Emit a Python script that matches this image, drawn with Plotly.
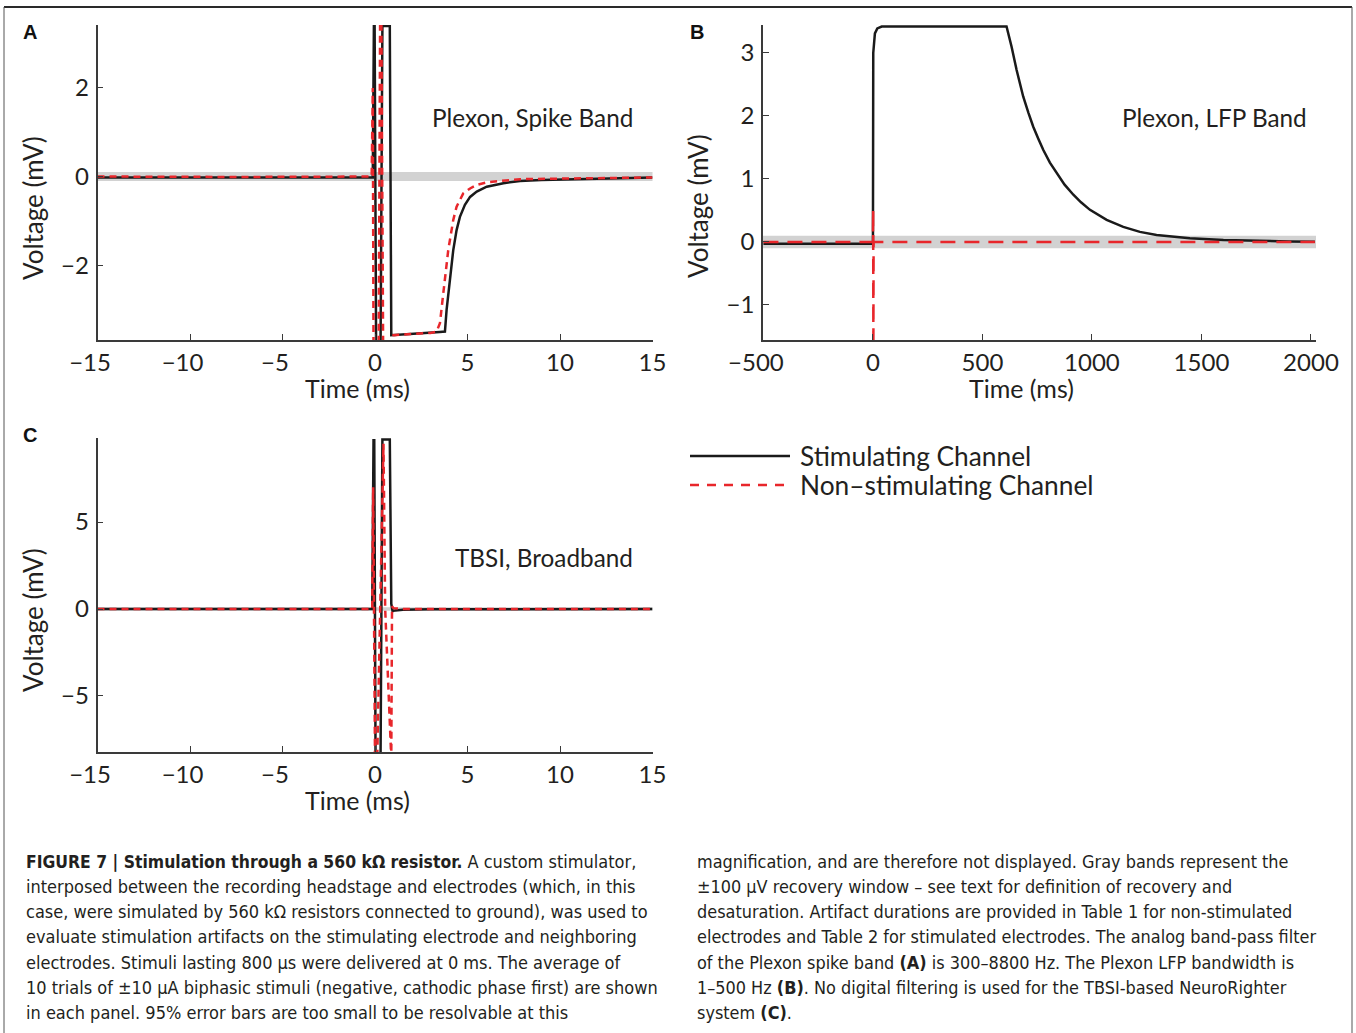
import plotly.graph_objects as go

W, H = 1356, 1033

# ---------------- data (time in ms, voltage in mV) ----------------
A_STIM_T = [-15, -10, -5, -0.12, -0.06, -0.02, 0.06, 0.3, 0.4, 0.8, 0.88, 1.5, 2.5, 3.5, 3.78,
            3.87, 4.05, 4.23, 4.41, 4.59, 4.86, 5.14, 5.5, 6.04, 6.94, 7.84, 9.0, 10.54, 13.24, 15]
A_STIM_V = [-0.02, -0.02, -0.02, -0.02, 3.40, 3.40, -3.9, -3.9, 3.40, 3.40, -3.58, -3.57, -3.54, -3.51, -3.50,
            -3.01, -2.26, -1.66, -1.21, -0.91, -0.64, -0.46, -0.34, -0.23, -0.15, -0.10, -0.08, -0.06, -0.04, -0.02]
A_NON_T = [-15, -7.5, -0.18, -0.12, -0.08, 0.2, 0.28, 0.34, 0.44, 0.95, 1.0, 2.0, 3.0, 3.33,
           3.51, 3.69, 3.96, 4.23, 4.41, 4.77, 5.14, 5.5, 6.04, 7.84, 10.5, 15]
A_NON_V = [0.0, -0.01, 0.0, 2.0, -3.9, -3.9, 3.9, 3.9, -3.9, -3.9, -3.58, -3.56, -3.53, -3.50,
           -3.31, -2.64, -1.66, -0.98, -0.68, -0.38, -0.27, -0.19, -0.13, -0.06, -0.04, -0.02]

B_STIM_T = [-500, -250, 0, 1.4, 5, 9, 20, 40, 610, 633, 656, 686, 710, 732, 755, 778, 808, 839, 875, 915,
            950, 991, 1067, 1143, 1219, 1295, 1371, 1447, 1600, 1752, 1900, 2018]
B_STIM_V = [-0.03, -0.03, -0.03, 3.0, 3.2, 3.31, 3.39, 3.42, 3.42, 3.10, 2.73, 2.31, 2.05, 1.83, 1.64, 1.46,
            1.26, 1.09, 0.91, 0.75, 0.63, 0.51, 0.35, 0.24, 0.16, 0.11, 0.08, 0.06, 0.03, 0.016, 0.009, 0.005]
B_NON_T = [-500, -250, 0, 1, 2, 3, 1000, 2018]
B_NON_V = [0.0, 0.0, 0.0, 0.52, -1.7, 0.0, 0.0, 0.0]

C_STIM_T = [-15, -7.5, -0.15, -0.08, -0.04, 0.03, 0.3, 0.4, 0.45, 0.8, 0.88, 0.95, 1.1, 1.5, 3, 15]
C_STIM_V = [0.0, 0.0, 0.0, 9.7, 9.7, -8.6, -8.6, 9.75, 9.75, 9.75, 0.3, -0.12, -0.08, -0.04, -0.02, 0.0]
C_NON_T = [-15, -7.5, -0.15, -0.1, 0.0, 0.12, 0.42, 0.46, 0.55, 0.88, 0.92, 1.0, 1.5, 15]
C_NON_V = [0.0, 0.0, 0.0, 7.0, -8.6, -8.6, 9.5, 9.5, 0.0, -8.6, 0.15, 0.05, 0.0, 0.0]

RECOVERY_WINDOW_MV = 0.1

A_XTICKS = [-15, -10, -5, 0, 5, 10, 15]
A_XTICKTEXT = ["\u221215", "\u221210", "\u22125", "0", "5", "10", "15"]
A_YTICKS = [-2, 0, 2]
B_XTICKS = [-500, 0, 500, 1000, 1500, 2000]
B_XTICKTEXT = ["\u2212500", "0", "500", "1000", "1500", "2000"]
B_YTICKS = [-1, 0, 1, 2, 3]
C_XTICKS = [-15, -10, -5, 0, 5, 10, 15]
C_XTICKTEXT = ["\u221215", "\u221210", "\u22125", "0", "5", "10", "15"]
C_YTICKS = [-5, 0, 5]

PANEL_TITLES = ["Plexon, Spike Band", "Plexon, LFP Band", "TBSI, Broadband"]
PANEL_LETTERS = ["A", "B", "C"]
SERIES_NAMES = ["Stimulating Channel", "Non\u2013stimulating Channel"]
X_TITLE = "Time (ms)"
Y_TITLE = "Voltage (mV)"

CAPTION_HEAD = "FIGURE 7 | Stimulation through a 560 k\u03a9 resistor."
CAPTION_LEFT = [
    " A custom stimulator,",
    "interposed between the recording headstage and electrodes (which, in this",
    "case, were simulated by 560 k\u03a9 resistors connected to ground), was used to",
    "evaluate stimulation artifacts on the stimulating electrode and neighboring",
    "electrodes. Stimuli lasting 800 \u00b5s were delivered at 0 ms. The average of",
    "10 trials of \u00b110 \u00b5A biphasic stimuli (negative, cathodic phase first) are shown",
    "in each panel. 95% error bars are too small to be resolvable at this",
]
CAPTION_RIGHT = [
    "magnification, and are therefore not displayed. Gray bands represent the",
    "\u00b1100 \u00b5V recovery window \u2013 see text for definition of recovery and",
    "desaturation. Artifact durations are provided in Table 1 for non-stimulated",
    "electrodes and Table 2 for stimulated electrodes. The analog band-pass filter",
    "of the Plexon spike band <b>(A)</b> is 300\u20138800 Hz. The Plexon LFP bandwidth is",
    "1\u2013500 Hz <b>(B)</b>. No digital filtering is used for the TBSI-based NeuroRighter",
    "system <b>(C)</b>.",
]

# ---------------- styling ----------------
BLACK = "#1a1a1a"
RED = "#e8262b"
BAND = "#d2d2d2"
AXIS = "#3a3a3a"
TXT = "#231f20"
FONT = "Lato, Open Sans, sans-serif"
CAP_FONT = "DejaVu Sans Condensed, Liberation Sans Narrow, Liberation Sans, sans-serif"
NEG_PAD = "\u2002\u2009"   # pushes negative tick labels slightly left, as in the original


def px(x):
    return x / W


def py(y):
    return 1 - y / H


def padded(labels):
    return [t + NEG_PAD if t.startswith("\u2212") else t for t in labels]


fig = go.Figure()

panels = [
    ("x", "y", A_STIM_T, A_STIM_V, A_NON_T, A_NON_V, "7px,5px"),
    ("x2", "y2", B_STIM_T, B_STIM_V, B_NON_T, B_NON_V, "15px,9px"),
    ("x3", "y3", C_STIM_T, C_STIM_V, C_NON_T, C_NON_V, "7px,5px"),
]
for xa, ya, st, sv, nt, nv, dash in panels:
    fig.add_trace(go.Scatter(x=st, y=sv, mode="lines", name=SERIES_NAMES[0],
                             line=dict(color=BLACK, width=2.5), xaxis=xa, yaxis=ya,
                             showlegend=False))
    fig.add_trace(go.Scatter(x=nt, y=nv, mode="lines", name=SERIES_NAMES[1],
                             line=dict(color=RED, width=2.5, dash=dash), xaxis=xa, yaxis=ya,
                             showlegend=False))
    xref = xa + " domain"
    fig.add_shape(type="rect", xref=xref, yref=ya, x0=0, x1=1,
                  y0=-RECOVERY_WINDOW_MV, y1=RECOVERY_WINDOW_MV,
                  fillcolor=BAND, line=dict(width=0), layer="below")


def xaxis_cfg(dom, rng, ticks, ticktext):
    return dict(domain=dom, range=rng, tickvals=ticks, ticktext=padded(ticktext), showline=True,
                linecolor=AXIS, linewidth=1.5,
                ticks="inside", ticklen=6, tickcolor=AXIS, tickwidth=1.2, showgrid=False, zeroline=False,
                tickfont=dict(family=FONT, size=24, color=TXT), ticklabelstandoff=0, automargin=False,
                fixedrange=True)


def yaxis_cfg(dom, rng, ticks, anchor):
    return dict(domain=dom, range=rng, tickvals=ticks, showline=True, linecolor=AXIS, linewidth=1.5,
                ticks="inside", ticklen=6, tickcolor=AXIS, tickwidth=1.2, showgrid=False, zeroline=False,
                tickfont=dict(family=FONT, size=24, color=TXT), ticklabelstandoff=2, anchor=anchor,
                automargin=False, fixedrange=True)


fig.update_layout(
    width=W, height=H, margin=dict(l=0, r=0, t=0, b=0, autoexpand=False),
    paper_bgcolor="white", plot_bgcolor="white", showlegend=False,
    xaxis=dict(**xaxis_cfg([px(97.5), px(652.5)], [-15, 15], A_XTICKS, A_XTICKTEXT), anchor="y"),
    yaxis=yaxis_cfg([py(340), py(25)], [-3.69, 3.42], A_YTICKS, "x"),
    xaxis2=dict(**xaxis_cfg([px(763), px(1316)], [-502, 2023], B_XTICKS, B_XTICKTEXT), anchor="y2"),
    yaxis2=yaxis_cfg([py(340), py(25)], [-1.556, 3.444], B_YTICKS, "x2"),
    xaxis3=dict(**xaxis_cfg([px(97.5), px(652.5)], [-15, 15], C_XTICKS, C_XTICKTEXT), anchor="y3"),
    yaxis3=yaxis_cfg([py(752), py(438)], [-8.22, 9.83], C_YTICKS, "x3"),
)

ann = []


def add_text(text, x, y, size, family=FONT, xanchor="center", yanchor="middle", angle=0, color=TXT):
    ann.append(dict(text=text, x=px(x), y=py(y), xref="paper", yref="paper", showarrow=False,
                    xanchor=xanchor, yanchor=yanchor, textangle=angle,
                    font=dict(family=family, size=size, color=color)))


# axis titles
for cx, cy in [(357, 388), (1021, 388), (357, 800)]:
    add_text(X_TITLE, cx, cy, 25)
for cx, cy in [(33, 208), (698, 206), (33, 620)]:
    add_text(Y_TITLE, cx, cy, 26, angle=-90)
# panel titles
for t, (cx, cy) in zip(PANEL_TITLES, [(532, 117), (1214.5, 117), (543.5, 557)]):
    add_text(t, cx, cy, 24.3)
# panel letters
for t, (cx, cy) in zip(PANEL_LETTERS, [(30, 32), (697, 32), (30, 435)]):
    add_text("<b>" + t + "</b>", cx, cy, 20, family="Liberation Sans, Arial, sans-serif", color="#111")

# legend
fig.add_shape(type="line", xref="paper", yref="paper", x0=px(690), x1=px(790), y0=py(456), y1=py(456),
              line=dict(color=BLACK, width=2.5))
fig.add_shape(type="line", xref="paper", yref="paper", x0=px(690), x1=px(790), y0=py(485), y1=py(485),
              line=dict(color=RED, width=2.5, dash="9px,8px"))
add_text(SERIES_NAMES[0], 798, 456, 26.3, xanchor="left")
add_text(SERIES_NAMES[1], 798, 485, 26.3, xanchor="left")

# caption
CAP_SIZE = 18.0
for i, line in enumerate(CAPTION_LEFT):
    if i == 0:
        line = '<span style="font-size:17.4px"><b>' + CAPTION_HEAD + "</b></span>" + line
    add_text(line, 24, 861 + i * 25.33, CAP_SIZE, family=CAP_FONT, xanchor="left")
for i, line in enumerate(CAPTION_RIGHT):
    add_text(line, 695, 861 + i * 25.33, 17.9, family=CAP_FONT, xanchor="left")

fig.update_layout(annotations=ann)

# figure frame
fig.add_shape(type="line", xref="paper", yref="paper", x0=px(4), x1=px(1352), y0=py(7), y1=py(7),
              line=dict(color="#2a2a2a", width=2))
fig.add_shape(type="line", xref="paper", yref="paper", x0=px(4), x1=px(4), y0=py(7), y1=0,
              line=dict(color="#555", width=1))
fig.add_shape(type="line", xref="paper", yref="paper", x0=px(1352), x1=px(1352), y0=py(7), y1=0,
              line=dict(color="#555", width=1))

fig.write_html("out.html", config={"displayModeBar": False},
               post_script="document.body.style.margin='0';document.body.style.padding='0';")
